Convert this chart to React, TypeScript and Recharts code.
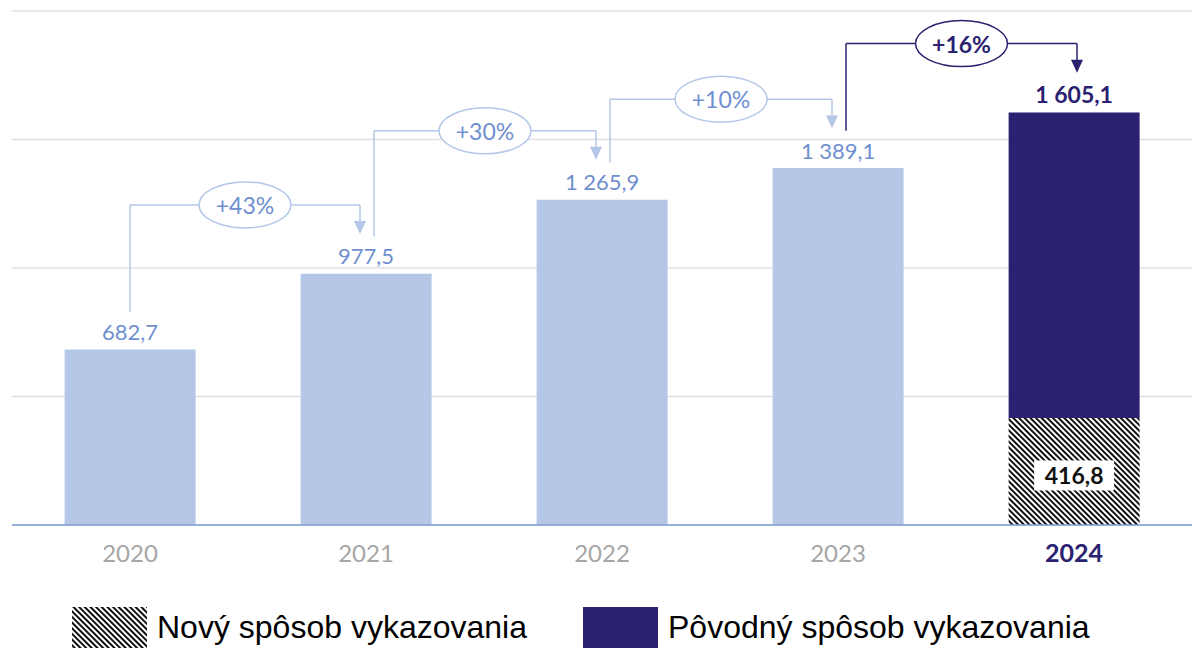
import {
  Bar,
  BarChart,
  CartesianGrid,
  LabelList,
  Legend,
  ReferenceLine,
  XAxis,
  YAxis,
} from "recharts";

const years = ["2020", "2021", "2022", "2023", "2024"];
const totals = [682.7, 977.5, 1265.9, 1389.1, 1605.1];
const newMethod2024 = 416.8;
const growth = ["+43%", "+30%", "+10%", "+16%"];
const yTicks = [0, 500, 1000, 1500, 2000];

const LIGHT = "#b4c7e7";
const LIGHT_TEXT = "#6f8fd0";
const NAVY = "#2a2170";
const FONT = "Lato, 'Open Sans', sans-serif";

const last = years.length - 1;

const data = years.map((year, i) => ({
  year,
  prior: i < last ? totals[i] : null,
  newPart: i === last ? newMethod2024 : null,
  origPart: i === last ? totals[i] - newMethod2024 : null,
  topTotal: i === last ? totals[i] : null,
}));

// growth connectors between neighbouring bars (value units)
const connectors = growth.map((label, i) => ({
  label,
  from: years[i],
  to: years[i + 1],
  start: totals[i] + 145,
  level: totals[i + 1] + 268,
  tip: totals[i + 1] + 155,
  dark: i + 1 === last,
  dx0: i === 0 ? 0 : 8,
}));

const fmt = (v: number) => {
  const [a, b] = v.toFixed(1).split(".");
  return a.replace(/\B(?=(\d{3})+(?!\d))/g, " ") + "," + b;
};

function YearTick(props: any) {
  const { x, y, payload } = props;
  const isLast = payload.value === years[last];
  return (
    <text
      x={x}
      y={y + 25}
      textAnchor="middle"
      dominantBaseline="central"
      fontFamily={FONT}
      fontSize={isLast ? 25 : 24}
      fontWeight={isLast ? 700 : 400}
      fill={isLast ? NAVY : "#a6a6a6"}
    >
      {payload.value}
    </text>
  );
}

function TopLabel(props: any) {
  const { x, y, width, value, dark } = props;
  if (value == null) return null;
  return (
    <text
      x={x + width / 2}
      y={y - 18}
      textAnchor="middle"
      dominantBaseline="central"
      fontFamily={FONT}
      fontSize={dark ? 23 : 22}
      fontWeight={dark ? 700 : 400}
      fill={dark ? NAVY : LIGHT_TEXT}
    >
      {fmt(value)}
    </text>
  );
}

function BoxLabel(props: any) {
  const { x, y, width, height, value } = props;
  if (value == null) return null;
  const cx = x + width / 2;
  const cy = y + height / 2 + 4;
  return (
    <g>
      <rect x={cx - 40} y={cy - 15} width={80} height={30} fill="#fff" />
      <text
        x={cx}
        y={cy}
        textAnchor="middle"
        dominantBaseline="central"
        fontFamily={FONT}
        fontSize={23}
        fontWeight={700}
        fill="#111"
      >
        {fmt(value)}
      </text>
    </g>
  );
}

function UpLeg(p: any, dx: number, color: string) {
  return (
    <line x1={p.x1 + dx} y1={p.y1} x2={p.x2 + dx} y2={p.y2} stroke={color} strokeWidth={1.5} />
  );
}

function DownLeg(p: any, dx: number, color: string) {
  const x = p.x2 + dx;
  const y = p.y2;
  return (
    <g>
      <line x1={p.x1 + dx} y1={p.y1} x2={x} y2={y - 10} stroke={color} strokeWidth={1.5} />
      <path d={`M${x - 6},${y - 13} L${x + 6},${y - 13} L${x},${y} Z`} fill={color} />
    </g>
  );
}

function Across(p: any, dx0: number, dx1: number, label: string, dark: boolean) {
  const color = dark ? NAVY : LIGHT;
  const a = p.x1 + dx0;
  const b = p.x2 + dx1;
  const cx = (a + b) / 2;
  const cy = p.y1;
  return (
    <g>
      <line x1={a} y1={cy} x2={b} y2={cy} stroke={color} strokeWidth={1.5} />
      <ellipse cx={cx} cy={cy} rx={46} ry={23} fill="#fff" stroke={color} strokeWidth={1.5} />
      <text
        x={cx}
        y={cy}
        textAnchor="middle"
        dominantBaseline="central"
        fontFamily={FONT}
        fontSize={23}
        fontWeight={dark ? 700 : 400}
        fill={dark ? NAVY : LIGHT_TEXT}
      >
        {label}
      </text>
    </g>
  );
}

function HatchDefs({ id }: { id: string }) {
  return (
    <defs>
      <pattern
        id={id}
        patternUnits="userSpaceOnUse"
        width={4}
        height={4}
        patternTransform="rotate(-45)"
      >
        <rect width={4} height={4} fill="#fff" />
        <line x1={1} y1={0} x2={1} y2={4} stroke="#111" strokeWidth={2} />
      </pattern>
    </defs>
  );
}

const legendItems = [
  { label: "Nový spôsob vykazovania", hatch: true, left: 72 },
  { label: "Pôvodný spôsob vykazovania", hatch: false, left: 583 },
];

function LegendBox() {
  return (
    <div style={{ position: "relative", width: 1192, height: 64 }}>
      {legendItems.map((it) => (
        <div
          key={it.label}
          style={{
            position: "absolute",
            left: it.left,
            top: 21,
            display: "flex",
            alignItems: "center",
            height: 41,
          }}
        >
          <svg width={75} height={41} style={{ display: "block" }}>
            <HatchDefs id="hatchLegend" />
            <rect
              width={75}
              height={41}
              fill={it.hatch ? "url(#hatchLegend)" : NAVY}
            />
          </svg>
          <span
            style={{
              marginLeft: 10,
              fontFamily: "'Liberation Sans', Arial, sans-serif",
              fontSize: 32,
              color: "#000",
              whiteSpace: "nowrap",
            }}
          >
            {it.label}
          </span>
        </div>
      ))}
    </div>
  );
}

export default function App() {
  return (
    <div style={{ position: "absolute", left: 0, top: 0 }}>
      <BarChart
        width={1192}
        height={650}
        data={data}
        margin={{ top: 11, right: 0, left: 12, bottom: 0 }}
        barCategoryGap="22.3%"
      >
        <HatchDefs id="hatch" />
        <CartesianGrid vertical={false} stroke="#e0e0e0" strokeWidth={1.5} />
        <XAxis
          dataKey="year"
          height={61}
          tickLine={false}
          tickSize={0}
          axisLine={{ stroke: "#7f9cd0", strokeWidth: 1.5 }}
          tick={<YearTick />}
          interval={0}
        />
        <YAxis domain={[0, 2000]} ticks={yTicks} hide />
        <Legend
          verticalAlign="bottom"
          height={64}
          wrapperStyle={{ left: 0, bottom: 0, width: 1192 }}
          content={() => <LegendBox />}
        />
        <Bar
          dataKey="prior"
          stackId="a"
          fill={LIGHT}
          legendType="none"
          isAnimationActive={false}
        >
          <LabelList dataKey="prior" content={<TopLabel />} />
        </Bar>
        <Bar
          dataKey="newPart"
          name="Nový spôsob vykazovania"
          stackId="a"
          fill="url(#hatch)"
          isAnimationActive={false}
        >
          <LabelList dataKey="newPart" content={<BoxLabel />} />
        </Bar>
        <Bar
          dataKey="origPart"
          name="Pôvodný spôsob vykazovania"
          stackId="a"
          fill={NAVY}
          isAnimationActive={false}
        >
          <LabelList dataKey="topTotal" content={<TopLabel dark />} />
        </Bar>
        {connectors.map((c) => {
          const color = c.dark ? NAVY : LIGHT;
          const dx1 = c.dark ? 3 : -6;
          return [
            <ReferenceLine
              key={`u${c.from}`}
              segment={[
                { x: c.from, y: c.start },
                { x: c.from, y: c.level },
              ]}
              shape={(p: any) => UpLeg(p, c.dx0, color)}
            />,
            <ReferenceLine
              key={`d${c.from}`}
              segment={[
                { x: c.to, y: c.level },
                { x: c.to, y: c.tip },
              ]}
              shape={(p: any) => DownLeg(p, dx1, color)}
            />,
            <ReferenceLine
              key={`h${c.from}`}
              segment={[
                { x: c.from, y: c.level },
                { x: c.to, y: c.level },
              ]}
              shape={(p: any) => Across(p, c.dx0, dx1, c.label, c.dark)}
            />,
          ];
        })}
      </BarChart>
    </div>
  );
}
